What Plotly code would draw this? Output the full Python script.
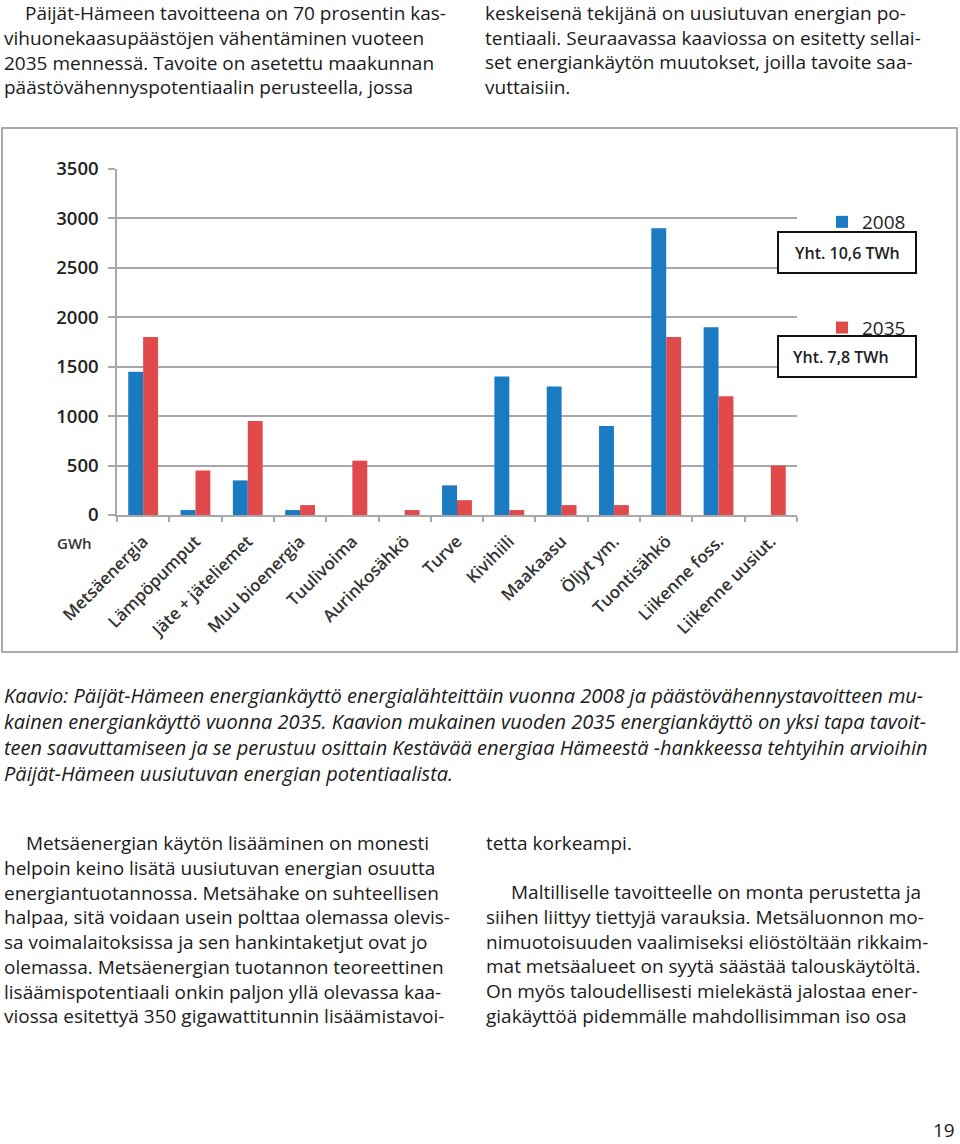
import plotly.graph_objects as go

# ---------------- data ----------------
categories = ["Metsäenergia", "Lämpöpumput", "Jäte + jäteliemet", "Muu bioenergia",
              "Tuulivoima", "Aurinkosähkö", "Turve", "Kivihiili", "Maakaasu",
              "Öljyt ym.", "Tuontisähkö", "Liikenne foss.", "Liikenne uusiut."]
values_2008 = [1450, 50, 350, 50, 0, 0, 300, 1400, 1300, 900, 2900, 1900, 0]
values_2035 = [1800, 450, 950, 100, 550, 50, 150, 50, 100, 100, 1800, 1200, 500]
series_names = ["2008", "2035"]
series_totals = ["Yht. 10,6 TWh", "Yht. 7,8 TWh"]
y_ticks = [0, 500, 1000, 1500, 2000, 2500, 3000, 3500]
unit_label = "GWh"

top_left = ["Päijät-Hämeen tavoitteena on 70 prosentin kas-",
            "vihuonekaasupäästöjen vähentäminen vuoteen",
            "2035 mennessä. Tavoite on asetettu maakunnan",
            "päästövähennyspotentiaalin perusteella, jossa"]
top_right = ["keskeisenä tekijänä on uusiutuvan energian po-",
             "tentiaali. Seuraavassa kaaviossa on esitetty sellai-",
             "set energiankäytön muutokset, joilla tavoite saa-",
             "vuttaisiin."]
caption = ["Kaavio: Päijät-Hämeen energiankäyttö energialähteittäin vuonna 2008 ja päästövähennystavoitteen mu-",
           "kainen energiankäyttö vuonna 2035. Kaavion mukainen vuoden 2035 energiankäyttö on yksi tapa tavoit-",
           "teen saavuttamiseen ja se perustuu osittain Kestävää energiaa Hämeestä -hankkeessa tehtyihin arvioihin",
           "Päijät-Hämeen uusiutuvan energian potentiaalista."]
bottom_left = ["Metsäenergian käytön lisääminen on monesti",
               "helpoin keino lisätä uusiutuvan energian osuutta",
               "energiantuotannossa. Metsähake on suhteellisen",
               "halpaa, sitä voidaan usein polttaa olemassa olevis-",
               "sa voimalaitoksissa ja sen hankintaketjut ovat jo",
               "olemassa. Metsäenergian tuotannon teoreettinen",
               "lisäämispotentiaali onkin paljon yllä olevassa kaa-",
               "viossa esitettyä 350 gigawattitunnin lisäämistavoi-"]
bottom_right_1 = ["tetta korkeampi."]
bottom_right_2 = ["Maltilliselle tavoitteelle on monta perustetta ja",
                  "siihen liittyy tiettyjä varauksia. Metsäluonnon mo-",
                  "nimuotoisuuden vaalimiseksi eliöstöltään rikkaim-",
                  "mat metsäalueet on syytä säästää talouskäytöltä.",
                  "On myös taloudellisesti mielekästä jalostaa ener-",
                  "giakäyttöä pidemmälle mahdollisimman iso osa"]
page_number = "19"

# ---------------- style ----------------
W, H = 960, 1144
BLUE = "#1a7bc3"
RED = "#e04a4b"
GRID = "#a8a8a8"
FONT = "Open Sans"
TXT = "#1a1a1a"
BODY = 19
LH = 1.3  # plotly line height factor


def X(px):
    return px / W


def Y(py):
    return 1 - py / H


fig = go.Figure()
fig.add_trace(go.Bar(x=categories, y=values_2008, name=series_names[0],
                     marker=dict(color=BLUE, line=dict(width=0)), legendgroup="a"))
fig.add_trace(go.Bar(x=categories, y=values_2035, name=series_names[1],
                     marker=dict(color=RED, line=dict(width=0)), legendgroup="b"))

annotations = []


def block(lines, x, y_first, size=BODY, italic=False):
    """multi-line left-aligned block; y_first = centre of first line (px)"""
    n = len(lines)
    yc = y_first + (n - 1) * size * LH / 2
    annotations.append(dict(
        text="<br>".join(lines), x=X(x), y=Y(yc),
        xref="paper", yref="paper", xanchor="left", yanchor="middle",
        align="left", showarrow=False, borderpad=0,
        font=dict(family=FONT, size=size, color=TXT,
                  style="italic" if italic else "normal")))


def paragraph(lines, x_first, x_rest, y_first, size=BODY):
    block(lines[:1], x_first, y_first, size)
    if len(lines) > 1:
        block(lines[1:], x_rest, y_first + size * LH, size)


paragraph(top_left, 24, 3, 13)
block(top_right, 484, 13)
block(caption, 3, 695, size=20, italic=True)
paragraph(bottom_left, 25, 3, 843)
block(bottom_right_1, 485, 843)
paragraph(bottom_right_2, 510, 485, 892)

annotations.append(dict(text=page_number, x=X(944), y=Y(1130), xref="paper", yref="paper",
                        xanchor="center", yanchor="middle", showarrow=False,
                        font=dict(family=FONT, size=19, color=TXT)))
annotations.append(dict(text=unit_label, x=X(74), y=Y(543), xref="paper", yref="paper",
                        xanchor="center", yanchor="middle", showarrow=False,
                        font=dict(family=FONT, size=15, color="#333", weight=600)))

# totals boxes
box_rows = [(232, 273, 847), (336, 377, 841)]
shapes = []
for (y0, y1, tx), t in zip(box_rows, series_totals):
    shapes.append(dict(type="rect", xref="paper", yref="paper",
                       x0=X(778), x1=X(916), y0=Y(y1), y1=Y(y0),
                       line=dict(color="#111", width=2), fillcolor="white", layer="above"))
    annotations.append(dict(text=t, x=X(tx), y=Y((y0 + y1) / 2), xref="paper", yref="paper",
                            xanchor="center", yanchor="middle", showarrow=False,
                            font=dict(family=FONT, size=16, color="#222", weight=600)))

# chart frame
shapes.append(dict(type="rect", xref="paper", yref="paper",
                   x0=X(2), x1=X(957), y0=Y(652), y1=Y(128),
                   line=dict(color="#909090", width=1.5), fillcolor="rgba(0,0,0,0)",
                   layer="below"))

fig.update_layout(
    width=W, height=H,
    margin=dict(l=0, r=0, t=0, b=0),
    paper_bgcolor="white", plot_bgcolor="white",
    barmode="group", bargap=0.43, bargroupgap=0,
    font=dict(family=FONT, color="#222"),
    showlegend=True,
    legend=dict(x=X(822), y=Y(203), xanchor="left", yanchor="top",
                font=dict(family=FONT, size=19, color="#222"),
                tracegroupgap=78, bgcolor="rgba(0,0,0,0)"),
    annotations=annotations,
    shapes=shapes,
    xaxis=dict(domain=[X(117), X(797)], type="category",
               showline=True, linecolor=GRID, linewidth=1.5,
               ticks="outside", tickson="boundaries", ticklen=5, tickcolor=GRID, tickwidth=1.5,
               tickangle=-45, ticklabelstandoff=8,
               tickfont=dict(family=FONT, size=17, color="#333", weight=600),
               showgrid=False, automargin=False, fixedrange=True),
    yaxis=dict(domain=[Y(515), Y(169)], range=[0, 3500],
               tickvals=y_ticks, ticktext=[str(v) for v in y_ticks],
               showline=True, linecolor=GRID, linewidth=1.5,
               ticks="outside", ticklen=7, tickcolor=GRID, tickwidth=1.5,
               ticklabelstandoff=6,
               showgrid=True, gridcolor=GRID, gridwidth=1.5, zeroline=False,
               tickfont=dict(family=FONT, size=18.5, color="#222", weight=600),
               automargin=False, fixedrange=True),
)

fig.write_html("out.html", config={"displayModeBar": False},
               post_script="document.body.style.margin='0';document.body.style.overflow='hidden';")
